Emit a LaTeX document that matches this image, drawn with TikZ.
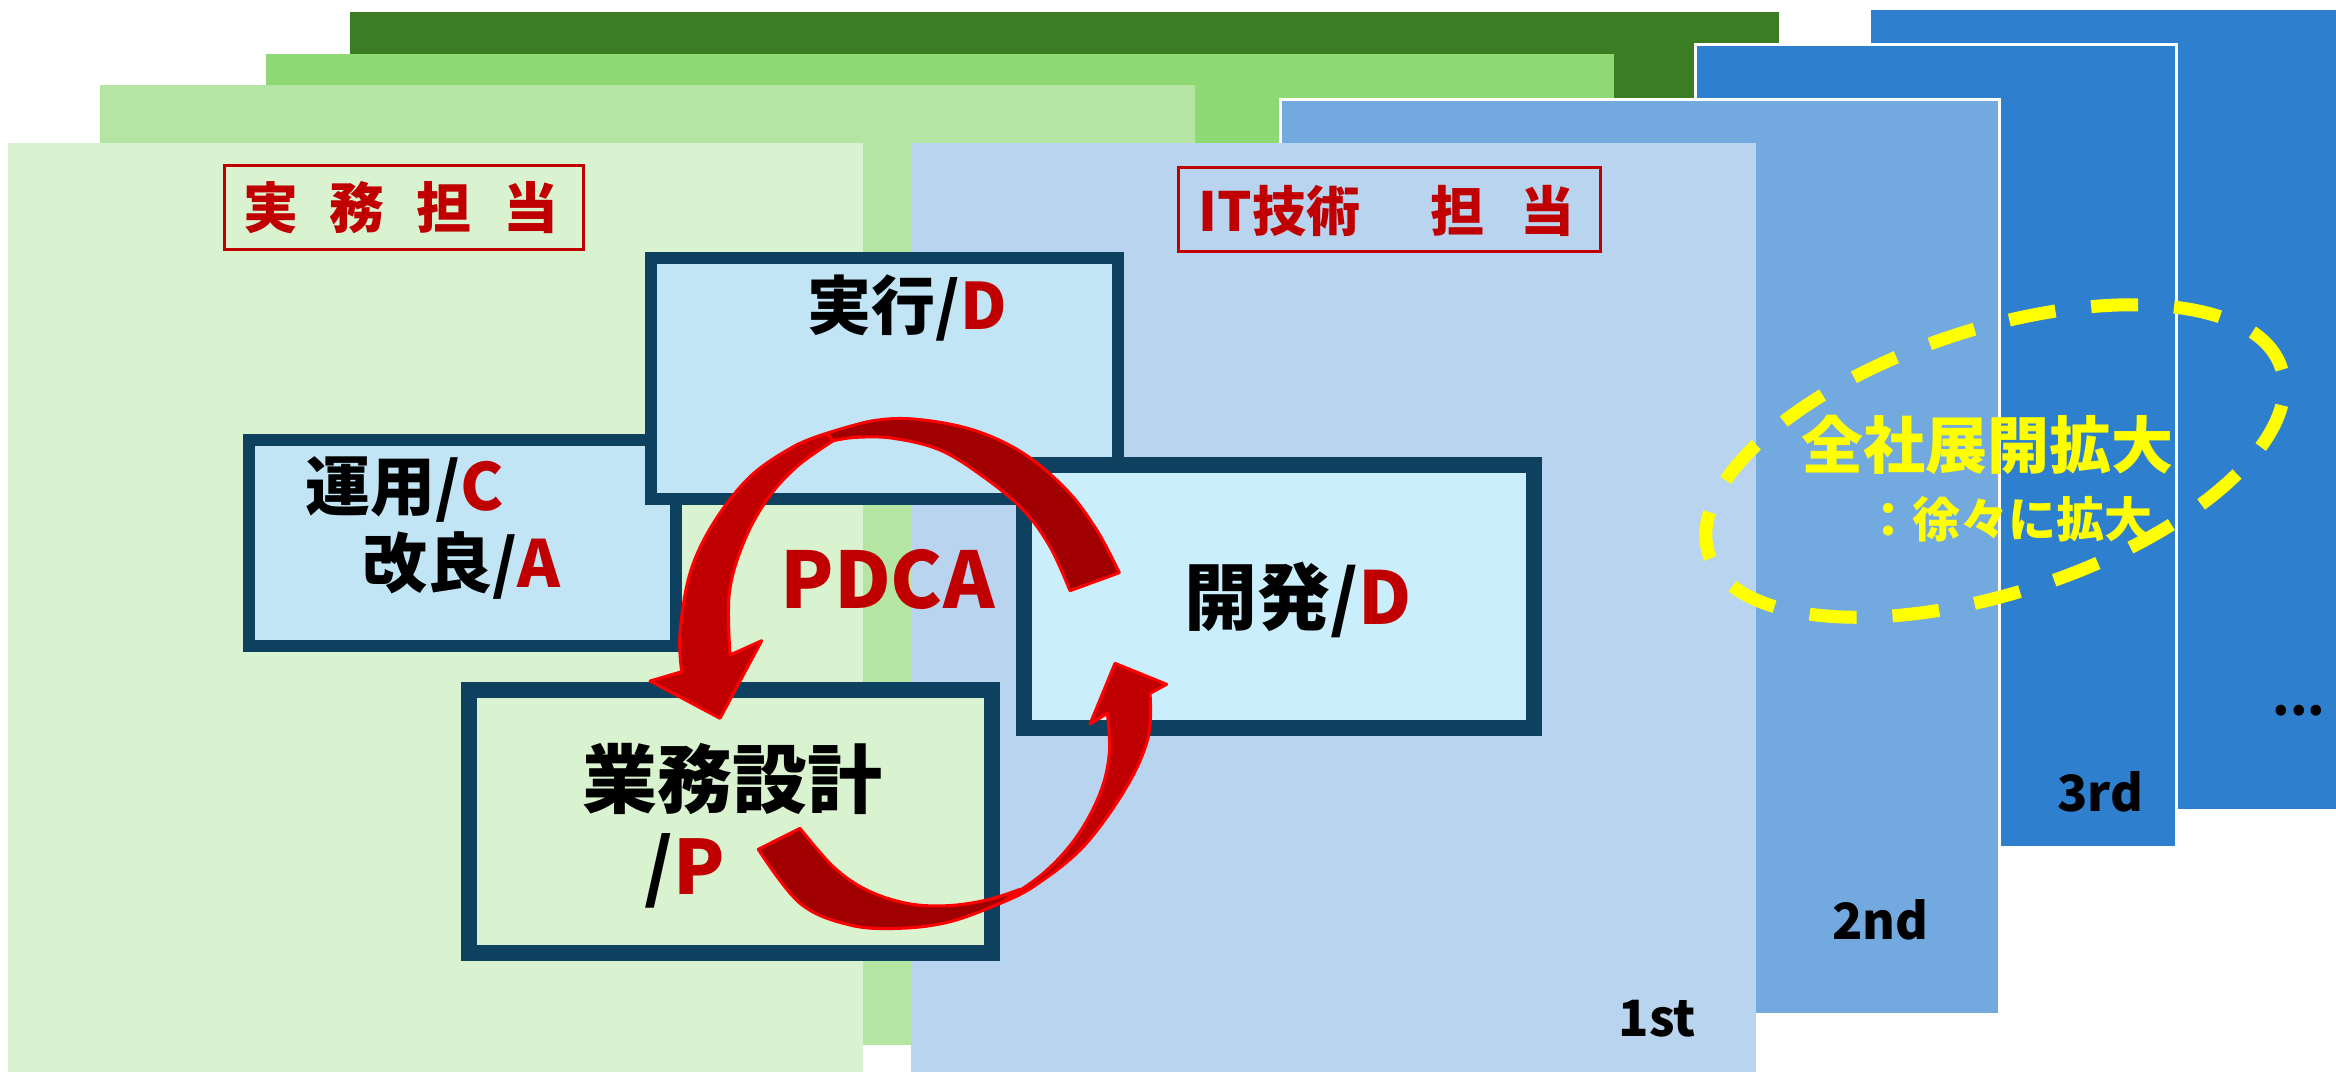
\documentclass[tikz,border=0pt]{standalone}
\usepackage{fontspec}
\setmainfont{Noto Sans CJK JP}
\definecolor{gFront}{HTML}{D9F2D0}
\definecolor{gPale}{HTML}{B4E5A2}
\definecolor{gMid}{HTML}{8ED973}
\definecolor{gDark}{HTML}{3B7D23}
\definecolor{bFront}{HTML}{B9D4EF}
\definecolor{bMid}{HTML}{72A9DF}
\definecolor{bDark}{HTML}{2E80CF}
\definecolor{boxline}{HTML}{0E415F}
\definecolor{boxfillA}{HTML}{C1E5F5}
\definecolor{boxfillB}{HTML}{CAEEFB}
\definecolor{myred}{HTML}{C00000}
\definecolor{arrowback}{HTML}{A00000}
\definecolor{arrowedge}{HTML}{FF0000}
\definecolor{myyellow}{HTML}{FFFF00}
\newcommand\myfs[1]{\fontsize{#1}{#1}\selectfont\bfseries}
\begin{document}
\begin{tikzpicture}[x=1pt,y=-1pt,
  card/.style={draw=none},
  bluecard/.style={draw=white,line width=3pt},
  pbox/.style={draw=boxline,line width=#1},
  redframe/.style={draw=myred,line width=3pt},
  lbl/.style={inner sep=0pt,outer sep=0pt},
  arrowfront/.style={fill=myred,draw=arrowedge,line width=3pt,line join=round},
  arrowdark/.style={fill=arrowback,draw=arrowedge,line width=3pt,line join=round},
  dashring/.style={draw=myyellow,line width=13pt,dash pattern=on 47pt off 36pt}]
\useasboundingbox (0,0) rectangle (2336,1072);
\fill[white] (0,0) rectangle (2336,1072);
% green cards (back to front)
\fill[gDark] (350,12) rectangle (1779,500);
\fill[gMid] (266,54) rectangle (1614,500);
\fill[gPale] (100,85) rectangle (1195,1045);
\fill[gFront] (8,143) rectangle (863,1072);
% blue cards (back to front)
\filldraw[bDark,bluecard] (1869,8) rectangle (2345,810);
\filldraw[bDark,bluecard] (1695,44) rectangle (2176,847);
\filldraw[bMid,bluecard] (1280,99) rectangle (1999,1014);
\fill[bFront] (911,143) rectangle (1756,1072);
% role frames
\draw[redframe] (224.5,165) rectangle (583.5,249.3);
\node[lbl,text=myred,font=\myfs{55}] (roleBiz) at (401,207.5) {実\hspace{32pt}務\hspace{32pt}担\hspace{32pt}当};
\draw[redframe] (1178,167.5) rectangle (1600.5,251.5);
\node[lbl,text=myred,font=\myfs{54}] (roleIT) at (1386.5,211) {IT技術\hspace{70pt}担\hspace{36pt}当};
% process boxes
\filldraw[pbox=12pt,fill=boxfillA] (248.5,439.5) rectangle (676,645.5);
\filldraw[pbox=12pt,fill=boxfillA] (651,258) rectangle (1117.5,499);
\filldraw[pbox=16pt,fill=boxfillB] (1024,465) rectangle (1534,728);
\filldraw[pbox=16pt,fill=gFront] (468.7,689.7) rectangle (992,952.8);
% texts
\node[lbl,font=\myfs{64}] (doText) at (907,308) {実行/\textcolor{myred}{D}};
\node[lbl,font=\myfs{65}] (checkText) at (405,489) {運用/\textcolor{myred}{C}};
\node[lbl,font=\myfs{65}] (actText) at (461,566) {改良/\textcolor{myred}{A}};
\node[lbl,font=\myfs{75}] (planText) at (732.5,778.5) {業務設計};
\node[lbl,font=\myfs{75}] (planP) at (685,871) {/\textcolor{myred}{P}};
\node[lbl,font=\myfs{73}] (devText) at (1298.5,600) {開発/\textcolor{myred}{D}};
\node[lbl,font=\myfs{78},text=myred] (pdca) at (887.5,579.5) {PDCA};
% arrow 1 (top)
\filldraw[arrowdark] plot[smooth,tension=0.6] coordinates {(1119.3,572.7) (1096.7,530) (1066.7,490) (1023.3,453.3) (973.3,430) (916.7,419.3) (873.3,420.7) (826.7,433.3)}
  -- plot[smooth,tension=0.6] coordinates {(833.3,440.7) (856.7,437.3) (893.3,438.3) (940,450) (983.3,476.7) (1023.3,510) (1050,546.7) (1070,590.7)} -- cycle;
\filldraw[arrowfront] plot[smooth,tension=0.6] coordinates {(826.7,433.3) (793.3,446.7) (750,476.7) (713.3,523.3) (690,573.3) (680,633.3) (681.7,671.7)}
  -- (650,681) -- (720,718.3) -- (761.7,640.7) -- (730,655)
  -- plot[smooth,tension=0.6] coordinates {(730,655) (729.3,593.3) (743.3,543.3) (766.7,500) (796.7,466.7) (833.3,440.7)} -- cycle;
% arrow 2 (bottom)
\filldraw[arrowdark] plot[smooth,tension=0.6] coordinates {(758.3,849.3) (800,903.3) (850,925) (900,928.3) (950,921.7) (1000,903.3) (1020,891.7)}
  -- plot[smooth,tension=0.6] coordinates {(1020,889.3) (986.7,900) (946.7,905.7) (906.7,903.3) (866.7,890) (833.3,866.7) (800,828.3)} -- cycle;
\filldraw[arrowfront] plot[smooth,tension=0.6] coordinates {(1000,903.3) (1033.3,886.7) (1083.3,846.7) (1126.7,786.7) (1148.3,736.7) (1150,693.3)}
  -- (1166.7,684.3) -- (1115,663.3) -- (1090,724) -- (1107.3,713.3)
  -- plot[smooth,tension=0.6] coordinates {(1107.3,713.3) (1109.3,753.3) (1100,793.3) (1076.7,836.7) (1043.3,873.3) (1000,903.3)} -- cycle;
% expansion ring
\draw[dashring,rotate around={18:(1995,461)}] (1995,461) ellipse [x radius=301pt,y radius=132pt];
\node[lbl,font=\myfs{62},text=myyellow] (expand) at (1987.5,444.5) {全社展開拡大};
\node[lbl,font=\myfs{48},text=myyellow] (gradual) at (2008,519.5) {：徐々に拡大};
% stage labels
\node[lbl,font=\myfs{50}] (first) at (1657.5,1018.5) {1st};
\node[lbl,font=\myfs{50}] (second) at (1880.5,920) {2nd};
\node[lbl,font=\myfs{50}] (third) at (2100,792) {3rd};
\node[lbl,font=\myfs{50},anchor=base] (more) at (2299,715) {...};
\end{tikzpicture}
\end{document}
